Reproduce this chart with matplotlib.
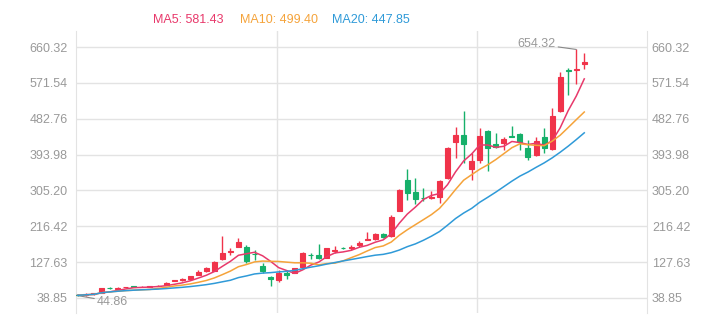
import matplotlib
matplotlib.use('Agg')
import matplotlib.pyplot as plt
import numpy as np
import pandas as pd

plt.rcParams['font.family'] = ['Liberation Sans', 'DejaVu Sans']

# daily candles: open, close, low, high
opens = [47, 46, 48, 51.2, 64.5, 62, 65.5, 67.5, 66, 66,
         68, 71, 81, 83, 86, 97, 104.5, 106.5, 134.5, 153,
         166, 166, 149, 119, 90, 83.5, 101.5, 101.5, 116, 146.5,
         145, 138.5, 156, 163, 162, 170, 183, 184, 197.3, 192.4,
         255, 331, 302, 287, 286.5, 289.6, 335.2, 425.9, 442.4, 357.5,
         380.5, 453, 421, 423.3, 439, 444, 411, 392.9, 436.7, 407,
         502.6, 602.5, 603, 619]
closes = [45.5, 48, 50, 63.6, 63, 63.5, 66.5, 65.5, 67, 67.5,
          69.5, 77, 82.5, 85, 93, 103, 112, 128.7, 149.5, 155,
          178, 131, 147, 106, 86, 100, 95, 112.5, 149.5, 144.5,
          138.5, 162, 158, 161.5, 164, 175.8, 186, 197.3, 190.6, 240,
          306.3, 299.6, 283.2, 285.7, 289.5, 329.3, 410, 442.4, 419.4, 377,
          439.9, 410, 413, 432.5, 436.75, 425.8, 387.2, 427.6, 409.5, 489.5,
          586.8, 600.5, 607, 623.35]
lows = [44.86, 45, 47, 50, 61, 60, 65, 65, 65.5, 66,
        67.5, 70, 80.5, 80.5, 85, 96, 103.5, 105, 133, 145,
        165, 125, 134, 100, 69, 79.5, 85, 101, 113, 134.5,
        135, 137, 151, 160, 158, 165.5, 182, 183, 186.5, 190.6,
        254, 281.5, 271.6, 280, 283.2, 273.3, 334, 384.8, 372.4, 331,
        372.4, 354, 410, 405.3, 436.5, 405.3, 380.5, 390.4, 397, 405,
        500, 541.5, 568.7, 605]
highs = [48, 50, 52, 64.5, 67, 66, 67, 68, 67.5, 68,
         70, 78, 83, 88, 94, 108, 116, 130, 192.4, 162,
         186.5, 170, 157, 126, 93, 108, 106, 114, 153.5, 151,
         172.5, 163, 167.5, 164, 170, 180, 201.5, 199, 200.5, 244,
         308, 358.2, 336.8, 310.5, 304.5, 331, 412, 463, 501.8, 397,
         459, 455, 447.4, 438, 464.7, 446.5, 430, 438, 460.5, 509,
         597.7, 607.5, 654.32, 644.7]

y_ticks = [38.85, 127.63, 216.42, 305.20, 393.98, 482.76, 571.54, 660.32]
ma_windows = [5, 10, 20]
ma_colors = ['#e8396b', '#f5a33a', '#2f9ad8']

UP = '#f0334a'
DOWN = '#16b06a'
LABEL = '#999999'
GRID = '#e3e3e3'

df = pd.DataFrame({'open': opens, 'close': closes, 'low': lows, 'high': highs})
x = np.arange(len(df))

fig = plt.figure(figsize=(7.11, 3.17), dpi=100)
ax = fig.add_axes([76 / 711, 4 / 317, (647 - 76) / 711, (313 - 31) / 317])

up = df['close'] >= df['open']
colors = np.where(up, UP, DOWN)

# wicks and bodies
ax.vlines(x, df['low'], df['high'], colors=colors, linewidth=1.0, zorder=3)
ax.bar(x, df['close'] - df['open'], bottom=df['open'], width=0.62,
       color=colors, edgecolor=colors, linewidth=0.8, zorder=4)

# moving averages
for w, c in zip(ma_windows, ma_colors):
    ma = df['close'].rolling(w, min_periods=1).mean()
    ax.plot(x, ma, color=c, linewidth=1.1, zorder=5)
    df[f'ma{w}'] = ma

ax.set_xlim(-0.2, 70.8)
ax.set_ylim(1.7, 700)
ax.set_yticks(y_ticks)
ax.set_yticklabels([f'{v:.2f}' for v in y_ticks])
ax.set_xticks([24.8, 49.7])
ax.set_xticklabels([])
ax.tick_params(axis='both', length=0, labelsize=9, labelcolor=LABEL)
ax.tick_params(axis='y', pad=6)
ax.grid(True, color=GRID, linewidth=1.0)
ax.set_axisbelow(True)
for side in ['top', 'bottom']:
    ax.spines[side].set_visible(False)
for side in ['left', 'right']:
    ax.spines[side].set_color(GRID)

# right-hand copy of the value axis
axr = ax.twinx()
axr.set_ylim(ax.get_ylim())
axr.set_yticks(y_ticks)
axr.set_yticklabels([f'{v:.2f}' for v in y_ticks])
axr.tick_params(axis='y', length=0, labelsize=9, labelcolor=LABEL, pad=3.5)
for spine in axr.spines.values():
    spine.set_visible(False)

# high / low markers
i_hi = int(df['high'].idxmax())
i_lo = int(df['low'].idxmin())
ax.annotate(f"{df['high'][i_hi]:.2f}", xy=(i_hi, df['high'][i_hi]),
            xytext=(-15, 4), textcoords='offset points', ha='right', va='center',
            fontsize=9, color=LABEL,
            arrowprops=dict(arrowstyle='-', color='#888888', linewidth=0.8,
                            shrinkA=0, shrinkB=0))
ax.annotate(f"{df['low'][i_lo]:.2f}", xy=(i_lo, df['low'][i_lo]),
            xytext=(14, -4.5), textcoords='offset points', ha='left', va='center',
            fontsize=9, color=LABEL,
            arrowprops=dict(arrowstyle='-', color='#888888', linewidth=0.8,
                            shrinkA=0, shrinkB=0))

# legend row with last MA values
legend_x = [153, 240, 332]
for w, c, lx in zip(ma_windows, ma_colors, legend_x):
    fig.text(lx / 711, 1 - 20 / 317, f"MA{w}: {df[f'ma{w}'].iloc[-1]:.2f}",
             color=c, fontsize=9, ha='left', va='center')

fig.savefig('out.png', dpi=100)
